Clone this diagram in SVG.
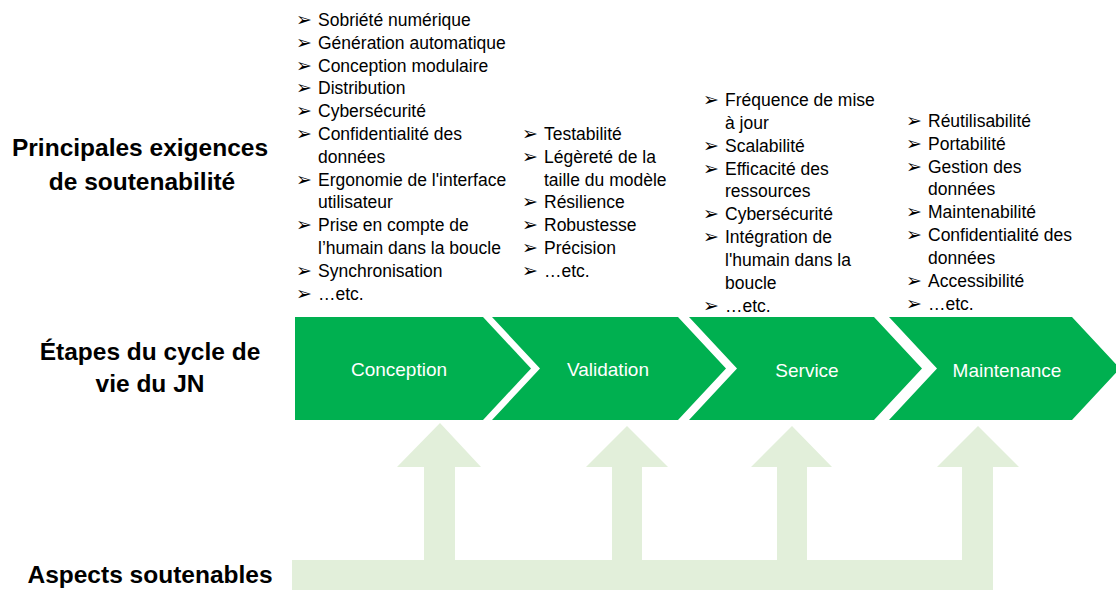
<svg xmlns="http://www.w3.org/2000/svg" width="1116" height="590" viewBox="0 0 1116 590">
<style>
.bg{fill:#ffffff}
.chev{fill:#00B050}
.lbl{font-family:"Liberation Sans",Arial,sans-serif;font-size:19px;fill:#ffffff;text-anchor:middle}
.hdr{font-family:"Liberation Sans",Arial,sans-serif;font-size:24.5px;font-weight:bold;fill:#000000;text-anchor:middle}
.it{font-family:"Liberation Sans",Arial,sans-serif;font-size:17.5px;fill:#000000}
.bl{font-family:"DejaVu Sans",sans-serif;font-size:19px;fill:#000000}
.asp{fill:#E2EFDA}
</style>
<rect class="bg" x="0" y="0" width="1116" height="590"/>

<g id="row-labels">
<text class="hdr" x="140" y="156">Principales exigences</text>
<text class="hdr" x="142" y="190">de soutenabilité</text>
<text class="hdr" x="150" y="360">Étapes du cycle de</text>
<text class="hdr" x="150" y="392">vie du JN</text>
<text class="hdr" x="150" y="583">Aspects soutenables</text>
</g>

<g id="aspects-base">
<rect class="asp" x="292" y="560" width="701" height="30"/>
</g>

<g id="connectors">
<polygon class="asp" points="424,561 424,467 397,467 440,423 481,467 455,467 455,561"/>
<polygon class="asp" points="612,561 612,467 586,467 627,426 668,467 642,467 642,561"/>
<polygon class="asp" points="777,561 777,467 751,467 792,426 832,467 807,467 807,561"/>
<polygon class="asp" points="962,561 962,467 937,467 978,426 1019,467 993,467 993,561"/>
</g>

<g id="stage-conception">
<polygon class="chev" points="295,317 483,317 531,368.5 483,420 295,420"/>
<text class="lbl" x="399" y="376">Conception</text>
</g>
<g id="stage-validation">
<polygon class="chev" points="492,317 678,317 726,368.5 678,420 492,420 540,368.5"/>
<text class="lbl" x="608" y="376">Validation</text>
</g>
<g id="stage-service">
<polygon class="chev" points="689,317 874,317 922,368.5 874,420 689,420 737,368.5"/>
<text class="lbl" x="807" y="377">Service</text>
</g>
<g id="stage-maintenance">
<polygon class="chev" points="889,317 1072,317 1120,368.5 1072,420 889,420 937,368.5"/>
<text class="lbl" x="1007" y="377">Maintenance</text>
</g>

<g id="req-conception">
<text class="bl" x="296" y="26">➢</text><text class="it" x="318" y="26">Sobriété numérique</text>
<text class="bl" x="296" y="49">➢</text><text class="it" x="318" y="49">Génération automatique</text>
<text class="bl" x="296" y="72">➢</text><text class="it" x="318" y="72">Conception modulaire</text>
<text class="bl" x="296" y="94">➢</text><text class="it" x="318" y="94">Distribution</text>
<text class="bl" x="296" y="117">➢</text><text class="it" x="318" y="117">Cybersécurité</text>
<text class="bl" x="296" y="140">➢</text><text class="it" x="318" y="140">Confidentialité des</text>
<text class="it" x="318" y="163">données</text>
<text class="bl" x="296" y="186">➢</text><text class="it" x="318" y="186">Ergonomie de l'interface</text>
<text class="it" x="318" y="208">utilisateur</text>
<text class="bl" x="296" y="231">➢</text><text class="it" x="318" y="231">Prise en compte de</text>
<text class="it" x="318" y="254">l’humain dans la boucle</text>
<text class="bl" x="296" y="277">➢</text><text class="it" x="318" y="277">Synchronisation</text>
<text class="bl" x="296" y="300">➢</text><text class="it" x="318" y="300">…etc.</text>
</g>

<g id="req-validation">
<text class="bl" x="522" y="140">➢</text><text class="it" x="544" y="140">Testabilité</text>
<text class="bl" x="522" y="163">➢</text><text class="it" x="544" y="163">Légèreté de la</text>
<text class="it" x="544" y="186">taille du modèle</text>
<text class="bl" x="522" y="208">➢</text><text class="it" x="544" y="208">Résilience</text>
<text class="bl" x="522" y="231">➢</text><text class="it" x="544" y="231">Robustesse</text>
<text class="bl" x="522" y="254">➢</text><text class="it" x="544" y="254">Précision</text>
<text class="bl" x="522" y="277">➢</text><text class="it" x="544" y="277">…etc.</text>
</g>

<g id="req-service">
<text class="bl" x="703" y="106">➢</text><text class="it" x="725" y="106">Fréquence de mise</text>
<text class="it" x="725" y="129">à jour</text>
<text class="bl" x="703" y="152">➢</text><text class="it" x="725" y="152">Scalabilité</text>
<text class="bl" x="703" y="175">➢</text><text class="it" x="725" y="175">Efficacité des</text>
<text class="it" x="725" y="197">ressources</text>
<text class="bl" x="703" y="220">➢</text><text class="it" x="725" y="220">Cybersécurité</text>
<text class="bl" x="703" y="243">➢</text><text class="it" x="725" y="243">Intégration de</text>
<text class="it" x="725" y="266">l'humain dans la</text>
<text class="it" x="725" y="289">boucle</text>
<text class="bl" x="703" y="312">➢</text><text class="it" x="725" y="312">…etc.</text>
</g>

<g id="req-maintenance">
<text class="bl" x="906" y="127">➢</text><text class="it" x="928" y="127">Réutilisabilité</text>
<text class="bl" x="906" y="150">➢</text><text class="it" x="928" y="150">Portabilité</text>
<text class="bl" x="906" y="173">➢</text><text class="it" x="928" y="173">Gestion des</text>
<text class="it" x="928" y="195">données</text>
<text class="bl" x="906" y="218">➢</text><text class="it" x="928" y="218">Maintenabilité</text>
<text class="bl" x="906" y="241">➢</text><text class="it" x="928" y="241">Confidentialité des</text>
<text class="it" x="928" y="264">données</text>
<text class="bl" x="906" y="287">➢</text><text class="it" x="928" y="287">Accessibilité</text>
<text class="bl" x="906" y="310">➢</text><text class="it" x="928" y="310">…etc.</text>
</g>
</svg>
